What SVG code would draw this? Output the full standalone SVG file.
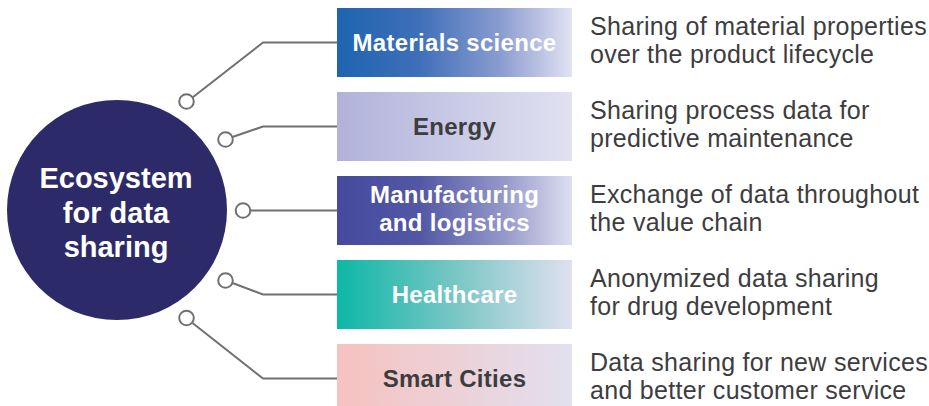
<svg xmlns="http://www.w3.org/2000/svg" width="929" height="406" viewBox="0 0 929 406">
  <defs>
    <linearGradient id="g1" x1="0" y1="0" x2="1" y2="0">
      <stop offset="0" stop-color="#1e64b0"/>
      <stop offset="0.35" stop-color="#3f6fb9"/>
      <stop offset="0.7" stop-color="#8b9dd0"/>
      <stop offset="1" stop-color="#e2e2f2"/>
    </linearGradient>
    <linearGradient id="g2" x1="0" y1="0" x2="1" y2="0">
      <stop offset="0" stop-color="#b1b2da"/>
      <stop offset="1" stop-color="#e1e1f1"/>
    </linearGradient>
    <linearGradient id="g3" x1="0" y1="0" x2="1" y2="0">
      <stop offset="0" stop-color="#454a9e"/>
      <stop offset="0.35" stop-color="#5257a5"/>
      <stop offset="0.7" stop-color="#9296c8"/>
      <stop offset="1" stop-color="#dedef0"/>
    </linearGradient>
    <linearGradient id="g4" x1="0" y1="0" x2="1" y2="0">
      <stop offset="0" stop-color="#0db7a7"/>
      <stop offset="0.5" stop-color="#78c6c4"/>
      <stop offset="1" stop-color="#e0e0ef"/>
    </linearGradient>
    <linearGradient id="g5" x1="0" y1="0" x2="1" y2="0">
      <stop offset="0" stop-color="#f6c2bf"/>
      <stop offset="1" stop-color="#e2e0ef"/>
    </linearGradient>
  </defs>
  <style>
    .box-label { font-family: "Liberation Sans", Arial, sans-serif; font-weight: bold; font-size: 24px; letter-spacing: 0.3px; text-anchor: middle; }
    .light { fill: #ffffff; }
    .dark { fill: #3d3d3f; }
    .desc { font-family: "Liberation Sans", Arial, sans-serif; font-size: 25px; letter-spacing: 0.3px; fill: #3d3d3f; }
    .hub-text { font-family: "Liberation Sans", Arial, sans-serif; font-weight: bold; font-size: 29px; fill: #ffffff; text-anchor: middle; }
    .conn { fill: none; stroke: #707070; stroke-width: 2; }
    .dot { fill: #ffffff; stroke: #707070; stroke-width: 2; }
  </style>
  <rect width="929" height="406" fill="#ffffff"/>

  <g id="connectors">
    <polyline class="conn" points="337,42.5 263,42.5 192.5,97.5"/>
    <polyline class="conn" points="337,126.5 263,126.5 232.5,137"/>
    <polyline class="conn" points="337,210.5 250.5,210.5"/>
    <polyline class="conn" points="337,294.5 263,294.5 232.5,283"/>
    <polyline class="conn" points="337,378.5 263,378.5 192.5,323"/>
    <circle class="dot" cx="186.5" cy="101.5" r="7.3"/>
    <circle class="dot" cx="225.5" cy="139.5" r="7.3"/>
    <circle class="dot" cx="243" cy="210.5" r="7.3"/>
    <circle class="dot" cx="225.5" cy="280.5" r="7.3"/>
    <circle class="dot" cx="186.5" cy="318" r="7.3"/>
  </g>

  <g id="hub">
    <circle cx="117" cy="210" r="110" fill="#2d2a69"/>
    <text class="hub-text" x="116" y="188">Ecosystem</text>
    <text class="hub-text" x="116" y="222.5">for data</text>
    <text class="hub-text" x="116" y="257">sharing</text>
  </g>

  <g id="materials">
    <rect x="337" y="8" width="235" height="69" fill="url(#g1)"/>
    <text class="box-label light" x="454.5" y="51">Materials science</text>
    <text class="desc" x="590" y="35">Sharing of material properties</text>
    <text class="desc" x="590" y="63">over the product lifecycle</text>
  </g>

  <g id="energy">
    <rect x="337" y="92" width="235" height="69" fill="url(#g2)"/>
    <text class="box-label dark" x="454.5" y="135">Energy</text>
    <text class="desc" x="590" y="119">Sharing process data for</text>
    <text class="desc" x="590" y="147">predictive maintenance</text>
  </g>

  <g id="manufacturing">
    <rect x="337" y="176" width="235" height="69" fill="url(#g3)"/>
    <text class="box-label light" x="454.5" y="203">Manufacturing</text>
    <text class="box-label light" x="454.5" y="231">and logistics</text>
    <text class="desc" x="590" y="203">Exchange of data throughout</text>
    <text class="desc" x="590" y="231">the value chain</text>
  </g>

  <g id="healthcare">
    <rect x="337" y="260" width="235" height="69" fill="url(#g4)"/>
    <text class="box-label light" x="454.5" y="303">Healthcare</text>
    <text class="desc" x="590" y="287">Anonymized data sharing</text>
    <text class="desc" x="590" y="315">for drug development</text>
  </g>

  <g id="smartcities">
    <rect x="337" y="344" width="235" height="69" fill="url(#g5)"/>
    <text class="box-label dark" x="454.5" y="387">Smart Cities</text>
    <text class="desc" x="590" y="371">Data sharing for new services</text>
    <text class="desc" x="590" y="399">and better customer service</text>
  </g>
</svg>
